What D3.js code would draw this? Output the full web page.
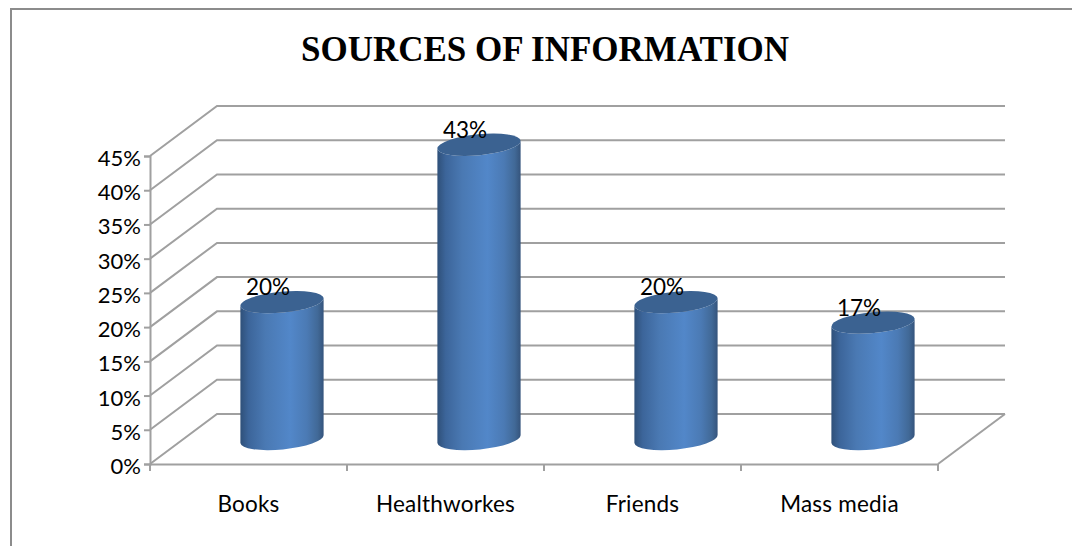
<!DOCTYPE html>
<html>
<head>
<meta charset="utf-8">
<script src="https://cdn.jsdelivr.net/npm/d3@7"></script>
<style>
html,body{margin:0;padding:0;background:#fff;}
svg{display:block;}
text{font-family:Lato,"Open Sans",sans-serif;fill:#000;}
</style>
</head>
<body>
<div id="chart"></div>
<script>
var categories = ["Books", "Healthworkes", "Friends", "Mass media"];
var values = [0.20, 0.43, 0.20, 0.17];
var valueLabels = ["20%", "43%", "20%", "17%"];
var yTicks = [0, 0.05, 0.10, 0.15, 0.20, 0.25, 0.30, 0.35, 0.40, 0.45];

var w = 1072, h = 546;
var dx = 67, dy = -50; // depth of the fake 3d box
var gridColor = "#a0a0a0";

var svg = d3.select("#chart").append("svg")
    .attr("width", w)
    .attr("height", h);

var x = d3.scaleBand().domain(categories).range([150, 938]);
var y = d3.scaleLinear().domain([0, 0.45]).range([464, 156]);

// cylinder shading
var defs = svg.append("defs");
var grad = defs.append("linearGradient").attr("id", "cyl");
[[0, "#2f5079"], [0.1, "#3c659a"], [0.3, "#4a79b3"], [0.6, "#5287c9"], [0.8, "#4b7ab4"], [0.93, "#416997"], [1, "#35547c"]]
    .forEach(function(s) {
        grad.append("stop").attr("offset", s[0]).attr("stop-color", s[1]);
    });

// outer frame, only top and left show
svg.append("path")
    .attr("d", "M11,546V9H1072")
    .attr("fill", "none")
    .attr("stroke", "#8c8c8c")
    .attr("stroke-width", 2);

svg.append("text")
    .attr("x", 545)
    .attr("y", 61)
    .attr("text-anchor", "middle")
    .style("font-family", "'Liberation Serif',serif")
    .style("font-weight", "bold")
    .style("font-size", "35px")
    .text("SOURCES OF INFORMATION");

// walls: gridlines run along the side wall then the back wall
svg.append("g").selectAll("path")
    .data(yTicks)
    .enter()
    .append("path")
    .attr("d", function(d) {
        var y0 = y(d);
        return "M150," + y0 + "L" + (150 + dx) + "," + (y0 + dy) + "H" + (938 + dx);
    })
    .attr("fill", "none")
    .attr("stroke", gridColor)
    .attr("stroke-width", 2);

// floor front right edge
svg.append("path")
    .attr("d", "M938," + y(0) + "L" + (938 + dx) + "," + (y(0) + dy))
    .attr("fill", "none")
    .attr("stroke", gridColor)
    .attr("stroke-width", 2);

var yAxis = d3.axisLeft(y).tickValues(yTicks).tickSize(6).tickFormat(d3.format(".0%"));
var xAxis = d3.axisBottom(x).tickSize(0).tickPadding(32);

var yg = svg.append("g").attr("transform", "translate(150,0)").call(yAxis);
var xg = svg.append("g").attr("transform", "translate(0,464)").call(xAxis);

// x ticks sit on the band edges
xg.selectAll(".edge")
    .data(d3.range(categories.length + 1))
    .enter()
    .append("line")
    .attr("class", "edge")
    .attr("x1", function(i) { return 150 + i * x.bandwidth(); })
    .attr("x2", function(i) { return 150 + i * x.bandwidth(); })
    .attr("y1", 0)
    .attr("y2", 7)
    .attr("stroke", gridColor)
    .attr("stroke-width", 2);

svg.selectAll(".domain").attr("stroke", gridColor).attr("stroke-width", 2);
svg.selectAll(".tick line").attr("stroke", gridColor).attr("stroke-width", 2);
yg.selectAll("text").style("font-size", "22px").attr("dx", "0").attr("dy", "0.43em");
xg.selectAll("text").style("font-size", "22.5px").style("letter-spacing", "0.2px");

// cylinders
var rx = 41.8, ry = 10.5, tilt = -5.5;
var ca = Math.cos(tilt * Math.PI / 180) * rx;
var sa = Math.sin(tilt * Math.PI / 180) * rx;

function cx(d) { return x(d) + x.bandwidth() / 2 + dx / 2; }

var bars = svg.append("g").selectAll("g")
    .data(categories)
    .enter()
    .append("g");

bars.append("path")
    .attr("fill", "url(#cyl)")
    .attr("d", function(d, i) {
        var c = cx(d), t = y(values[i]) + dy / 2, b = y(0) + dy / 2;
        var arc = "A" + rx + "," + ry + " " + tilt + " 0 ";
        return "M" + (c - ca) + "," + (t - sa) +
            "L" + (c - ca) + "," + (b - sa) +
            arc + "0 " + (c + ca) + "," + (b + sa) +
            "L" + (c + ca) + "," + (t + sa) +
            arc + "1 " + (c - ca) + "," + (t - sa) + "Z";
    });

bars.append("ellipse")
    .attr("rx", rx)
    .attr("ry", ry)
    .attr("fill", "#3b6291")
    .attr("transform", function(d, i) {
        return "translate(" + cx(d) + "," + (y(values[i]) + dy / 2) + ") rotate(" + tilt + ")";
    });

bars.append("text")
    .attr("x", function(d) { return cx(d) - 14; })
    .attr("y", function(d, i) { return y(values[i]) + dy / 2 - 7; })
    .attr("text-anchor", "middle")
    .style("font-size", "22.5px")
    .text(function(d, i) { return valueLabels[i]; });
</script>
</body>
</html>
